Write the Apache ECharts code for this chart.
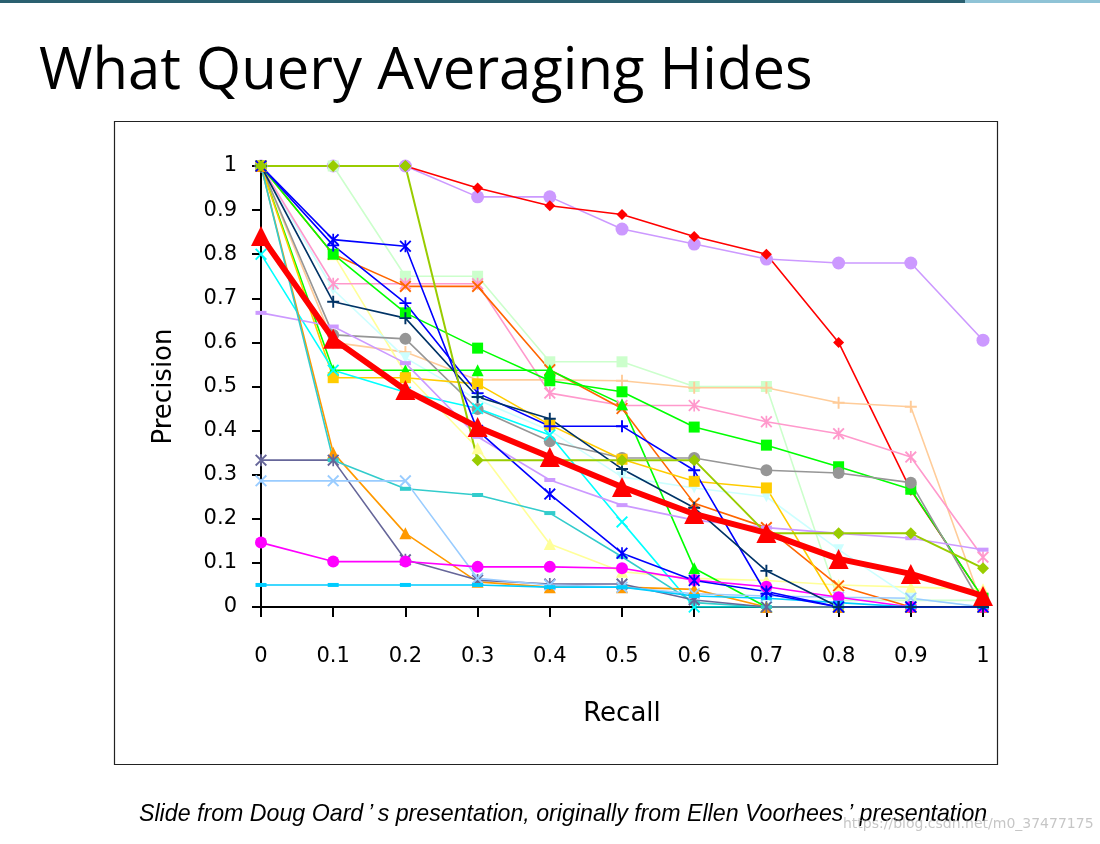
<!DOCTYPE html>
<html>
<head>
<meta charset="utf-8">
<script src="https://cdn.jsdelivr.net/npm/echarts@6/dist/echarts.min.js"></script>
<style>html,body{margin:0;padding:0;background:#fff}#c{width:1100px;height:844px}</style>
</head>
<body>
<div id="c"></div>
<script>
// ---- data ----
const recall = [0, 0.1, 0.2, 0.3, 0.4, 0.5, 0.6, 0.7, 0.8, 0.9, 1];
const xTickLabels = ['0','0.1','0.2','0.3','0.4','0.5','0.6','0.7','0.8','0.9','1'];

const qRedDiamond   = [1, 1, 1, 0.95, 0.91, 0.89, 0.84, 0.80, 0.60, 0.265, 0.02];
const qLavCircle    = [1, 1, 1, 0.93, 0.93, 0.857, 0.823, 0.789, 0.78, 0.78, 0.605];
const qLGSquare     = [1, 1, 0.75, 0.75, 0.556, 0.556, 0.5, 0.5, 0.015, 0.015, 0.015];
const qPinkAst      = [1, 0.733, 0.733, 0.733, 0.485, 0.457, 0.457, 0.42, 0.393, 0.34, 0.113];
const qOrangeX      = [1, 0.8, 0.727, 0.727, 0.538, 0.45, 0.235, 0.18, 0.048, 0, 0];
const qBlueAst      = [1, 0.833, 0.818, 0.4, 0.256, 0.122, 0.06, 0.035, 0, 0, 0];
const qBluePlus     = [1, 0.82, 0.689, 0.485, 0.41, 0.41, 0.31, 0.03, 0, 0, 0];
const qGreenSq      = [1, 0.8, 0.667, 0.587, 0.513, 0.488, 0.408, 0.367, 0.318, 0.267, 0.02];
const qGreenTri     = [1, 0.537, 0.537, 0.537, 0.537, 0.46, 0.088, 0, 0, 0, 0];
const qGreyCircle   = [1, 0.617, 0.608, 0.449, 0.376, 0.338, 0.338, 0.31, 0.304, 0.282, 0];
const qGoldSq       = [1, 0.52, 0.52, 0.506, 0.413, 0.335, 0.285, 0.27, 0, 0, 0];
const qNavyPlus     = [1, 0.692, 0.655, 0.476, 0.427, 0.313, 0.225, 0.082, 0, 0, 0];
const qPeachPlus    = [1, 0.6, 0.578, 0.515, 0.515, 0.513, 0.497, 0.497, 0.463, 0.454, 0];
const qYellowTri    = [1, 0.8, 0.53, 0.36, 0.143, 0.08, 0.065, 0.06, 0.05, 0.045, 0.04];
const qLightCyan    = [1, 0.72, 0.565, 0.47, 0.40, 0.295, 0.27, 0.25, 0.13, 0.02, 0];
const qCyanX        = [0.8, 0.537, 0.487, 0.45, 0.39, 0.193, 0, 0, 0, 0, 0];
const qLavDash      = [0.667, 0.636, 0.553, 0.386, 0.288, 0.231, 0.197, 0.18, 0.167, 0.156, 0.13];
const qOrangeTri    = [1, 0.35, 0.167, 0.057, 0.045, 0.045, 0.04, 0, 0, 0, 0];
const qTealDash     = [1, 0.333, 0.268, 0.254, 0.213, 0.114, 0.01, 0, 0, 0, 0];
const qSlateAst     = [0.333, 0.333, 0.107, 0.061, 0.052, 0.052, 0.016, 0, 0, 0, 0];
const qLightBlueX   = [0.286, 0.286, 0.286, 0.065, 0.05, 0.045, 0.03, 0.025, 0.022, 0.02, 0];
const qMagentaCircle= [0.146, 0.103, 0.103, 0.091, 0.091, 0.088, 0.061, 0.046, 0.022, 0, 0];
const qSkyDash      = [0.05, 0.05, 0.05, 0.05, 0.045, 0.045, 0.025, 0.02, 0.01, 0, 0];
const qYGDiamond    = [1, 1, 1, 0.333, 0.333, 0.333, 0.333, 0.167, 0.167, 0.167, 0.088];
const avgPrecision  = [0.841, 0.608, 0.492, 0.408, 0.34, 0.272, 0.211, 0.168, 0.109, 0.075, 0.025];

// ---- symbols ----
const SYM = {
  plus: 'path://M4.2,0H5.8V4.2H10V5.8H5.8V10H4.2V5.8H0V4.2H4.2Z',
  x: 'path://M1.1,0L5,3.9L8.9,0L10,1.1L6.1,5L10,8.9L8.9,10L5,6.1L1.1,10L0,8.9L3.9,5L0,1.1Z',
  ast: 'path://M1.1,0L5,3.9L8.9,0L10,1.1L6.1,5L10,8.9L8.9,10L5,6.1L1.1,10L0,8.9L3.9,5L0,1.1Z M4.3,0H5.7V10H4.3Z'
};

function mk(name, data, color, symbol, size, opts) {
  opts = opts || {};
  return Object.assign({
    name: name,
    type: 'line',
    data: recall.map((r, i) => [r, data[i]]),
    symbol: symbol,
    symbolSize: size,
    showAllSymbol: true,
    lineStyle: { color: color, width: 1.6 },
    itemStyle: { color: color },
    emphasis: { disabled: true },
    animation: false
  }, opts);
}

const series = [
  mk('q1', qLavCircle, '#cc99ff', 'circle', 13),
  mk('q2', qRedDiamond, '#ff0000', 'diamond', 11),
  mk('q3', qLGSquare, '#ccffcc', 'rect', 11),
  mk('q4', qPeachPlus, '#ffcc99', SYM.plus, 12),
  mk('q5', qYellowTri, '#ffff99', 'triangle', 12),
  mk('q6', qLightCyan, '#ccffff', 'triangle', 11, { symbolRotate: 180 }),
  mk('q7', qPinkAst, '#ff99cc', SYM.ast, 12),
  mk('q8', qOrangeX, '#ff6600', SYM.x, 12),
  mk('q9', qGreenSq, '#00ff00', 'rect', 11),
  mk('q10', qGreenTri, '#00ff00', 'triangle', 12),
  mk('q11', qGreyCircle, '#969696', 'circle', 12),
  mk('q12', qGoldSq, '#ffcc00', 'rect', 11),
  mk('q13', qCyanX, '#00ffff', SYM.x, 12),
  mk('q14', qLavDash, '#cc99ff', 'rect', [11, 4]),
  mk('q15', qOrangeTri, '#ff9900', 'triangle', 12),
  mk('q16', qTealDash, '#33cccc', 'rect', [11, 4]),
  mk('q17', qSlateAst, '#666699', SYM.ast, 12),
  mk('q18', qLightBlueX, '#99ccff', SYM.x, 12),
  mk('q19', qMagentaCircle, '#ff00ff', 'circle', 12),
  mk('q20', qSkyDash, '#00ccff', 'rect', [11, 4]),
  mk('q21', qBluePlus, '#0000ff', SYM.plus, 12),
  mk('q22', qBlueAst, '#0000ff', SYM.ast, 12),
  mk('q23', qNavyPlus, '#003366', SYM.plus, 12),
  mk('q24', qYGDiamond, '#99cc00', 'diamond', 12, { lineStyle: { color: '#99cc00', width: 2 } }),
  mk('Average', avgPrecision, '#ff0000', 'triangle', 20, { lineStyle: { color: '#ff0000', width: 6 }, z: 5 })
];

const labelFont = { fontFamily: 'DejaVu Sans', fontSize: 21, color: '#000' };
const fmt = v => xTickLabels[Math.round(v * 10)];

const option = {
  backgroundColor: '#ffffff',
  animation: false,
  grid: { left: 261, right: 117, top: 166, bottom: 237 },
  xAxis: {
    type: 'value', min: 0, max: 1, interval: 0.1,
    name: 'Recall', nameLocation: 'middle', nameGap: 94,
    nameTextStyle: { fontFamily: 'DejaVu Sans', fontSize: 26, color: '#000' },
    axisLine: { show: true, lineStyle: { color: '#000', width: 2 } },
    axisTick: { show: true, length: 10, lineStyle: { color: '#000', width: 2 } },
    axisLabel: Object.assign({ margin: 39, formatter: fmt }, labelFont),
    splitLine: { show: false }
  },
  yAxis: {
    type: 'value', min: 0, max: 1, interval: 0.1,
    name: 'Precision', nameLocation: 'middle', nameGap: 84, nameRotate: 90,
    nameTextStyle: { fontFamily: 'DejaVu Sans', fontSize: 26, color: '#000' },
    axisLine: { show: true, lineStyle: { color: '#000', width: 2 } },
    axisTick: { show: true, length: 9, lineStyle: { color: '#000', width: 2 } },
    axisLabel: Object.assign({ margin: 24, formatter: fmt }, labelFont),
    splitLine: { show: false }
  },
  graphic: [
    { type: 'rect', left: 0, top: 0, shape: { width: 965, height: 3 }, style: { fill: '#2a6070' }, silent: true },
    { type: 'rect', left: 965, top: 0, shape: { width: 135, height: 3 }, style: { fill: '#8fc3d6' }, silent: true },
    { type: 'rect', left: 112, top: 119, shape: { width: 883, height: 643 }, style: { fill: 'none', stroke: '#222', lineWidth: 1.2 }, silent: true, z: -1 },
    { type: 'text', left: 39, top: 43, style: { text: 'What Query Averaging Hides', fontFamily: 'Open Sans', fontSize: 58, fill: '#000' }, silent: true },
    { type: 'text', left: 139, top: 803, style: { text: 'Slide from Doug Oard\u2009’\u2009s presentation, originally from Ellen Voorhees\u2009’ presentation', fontFamily: 'Liberation Sans', fontStyle: 'italic', fontSize: 23.2, fill: '#000' }, silent: true },
    { type: 'text', left: 843, top: 817, style: { text: 'https://blog.csdn.net/m0_37477175', fontFamily: 'DejaVu Sans', fontSize: 14, fill: 'rgba(160,160,160,0.6)' }, silent: true }
  ],
  series: series
};

const chart = echarts.init(document.getElementById('c'), null, { renderer: 'canvas' });
chart.setOption(option);
</script>
</body>
</html>
